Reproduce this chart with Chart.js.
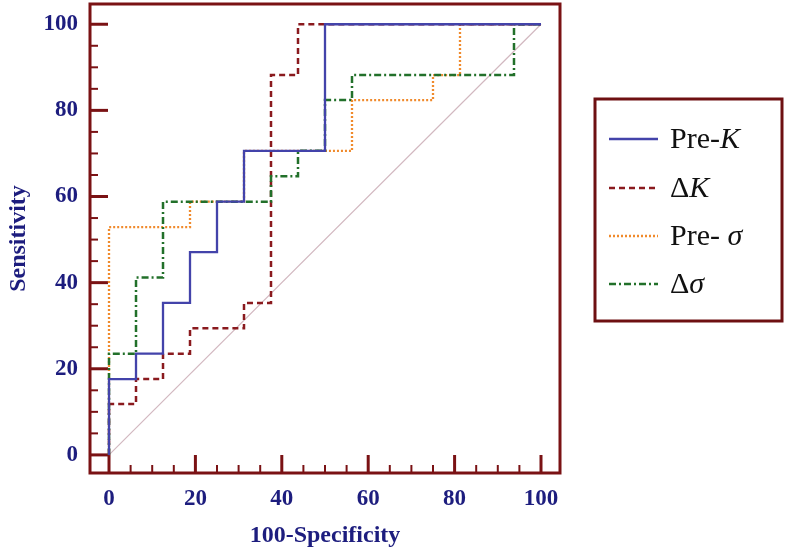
<!DOCTYPE html>
<html><head><meta charset="utf-8">
<script src="https://cdn.jsdelivr.net/npm/chart.js@4.4.1/dist/chart.umd.min.js"></script>
<style>html,body{margin:0;padding:0;background:#fff}#wrap{width:787px;height:551px;position:relative}</style>
</head><body><div id="wrap"><canvas id="c" width="787" height="551"></canvas></div>
<script>
// ---- data (ROC operating points: 100-Specificity, Sensitivity) ----
const xTicks = [0, 20, 40, 60, 80, 100];
const yTicks = [0, 20, 40, 60, 80, 100];
const minorTicks = [0,5,10,15,20,25,30,35,40,45,50,55,60,65,70,75,80,85,90,95,100];
const xTitle = '100-Specificity';
const yTitle = 'Sensitivity';

const preK_x = [0, 0, 6.25, 12.5, 18.75, 25, 31.25, 50, 100];
const preK_y = [0, 17.6, 23.5, 35.3, 47.1, 58.8, 70.6, 100, 100];

const dK_x = [0, 0, 6.25, 12.5, 18.75, 31.25, 37.5, 43.75, 100];
const dK_y = [0, 11.8, 17.6, 23.5, 29.4, 35.3, 88.2, 100, 100];

const preS_x = [0, 0, 18.75, 31.25, 56.25, 75, 81.25, 100];
const preS_y = [0, 52.9, 58.8, 70.6, 82.4, 88.2, 100, 100];

const dS_x = [0, 0, 6.25, 12.5, 37.5, 43.75, 50, 56.25, 93.75, 100];
const dS_y = [0, 23.5, 41.2, 58.8, 64.7, 70.6, 82.4, 88.2, 100, 100];

const diag_x = [0, 100];
const diag_y = [0, 100];

// legend labels: [text, italic]
const labPreK = [['Pre-', false], ['K', true]];
const labDK = [['\u0394', false], ['K', true]];
const labPreS = [['Pre- ', false], ['\u03C3', true]];
const labDS = [['\u0394', false], ['\u03C3', true]];

const pts = (xs, ys) => xs.map((x, i) => ({x: x, y: ys[i]}));

const MAROON = '#7a1214';
const NAVY = '#1d1d7e';
const SERIF = '"Liberation Serif", "Times New Roman", serif';

const framePlugin = {
  id: 'frame',
  beforeDatasetsDraw(chart) {
    const {ctx, chartArea: a, scales: {x, y}} = chart;
    ctx.save();
    ctx.strokeStyle = MAROON;
    ctx.lineCap = 'butt';
    minorTicks.forEach(v => {
      const major = v % 20 === 0;
      ctx.lineWidth = major ? 3 : 2;
      const len = major ? 18 : 8;
      const px = x.getPixelForValue(v);
      ctx.beginPath(); ctx.moveTo(px, a.bottom); ctx.lineTo(px, a.bottom - len); ctx.stroke();
      const py = y.getPixelForValue(v);
      ctx.beginPath(); ctx.moveTo(a.left, py); ctx.lineTo(a.left + len, py); ctx.stroke();
    });
    ctx.lineWidth = 3;
    ctx.strokeRect(a.left, a.top, a.right - a.left, a.bottom - a.top);
    ctx.restore();
  }
};

const legendPlugin = {
  id: 'customLegend',
  afterDraw(chart) {
    const ctx = chart.ctx;
    const box = {l: 595, t: 99, r: 782, b: 321};
    ctx.save();
    ctx.strokeStyle = '#6e1012';
    ctx.lineWidth = 3;
    ctx.strokeRect(box.l, box.t, box.r - box.l, box.b - box.t);
    const items = [[0, labPreK, 139], [1, labDK, 188], [2, labPreS, 236], [3, labDS, 284]];
    items.forEach(([di, parts, yy]) => {
      const ds = chart.data.datasets[di];
      ctx.save();
      ctx.strokeStyle = ds.borderColor;
      ctx.lineWidth = ds.borderWidth;
      ctx.setLineDash(ds.borderDash || []);
      ctx.beginPath(); ctx.moveTo(609, yy); ctx.lineTo(658, yy); ctx.stroke();
      ctx.restore();
      let tx = 670;
      ctx.fillStyle = '#111';
      ctx.textBaseline = 'middle';
      ctx.textAlign = 'left';
      parts.forEach(([t, it]) => {
        ctx.font = (it ? 'italic ' : '') + '30px ' + SERIF;
        ctx.fillText(t, tx, yy + 1);
        tx += ctx.measureText(t).width;
      });
    });
    ctx.restore();
  }
};

const tickFont = {family: SERIF, size: 23, weight: 'bold'};
const titleFont = {family: SERIF, size: 24, weight: 'bold'};
const noPad = s => { s.paddingTop = 0; s.paddingBottom = 0; s.paddingLeft = 0; s.paddingRight = 0; };

new Chart(document.getElementById('c'), {
  type: 'line',
  data: {
    datasets: [
      {label: 'Pre-K', data: pts(preK_x, preK_y), borderColor: '#4343aa', borderWidth: 2.3, stepped: 'before', order: 0},
      {label: '\u0394K', data: pts(dK_x, dK_y), borderColor: '#8a1a1e', borderWidth: 2.5, borderDash: [6, 4], stepped: 'before', order: 2},
      {label: 'Pre- \u03C3', data: pts(preS_x, preS_y), borderColor: '#f08a2c', borderWidth: 2.3, borderDash: [2, 2], stepped: 'before', order: 3},
      {label: '\u0394\u03C3', data: pts(dS_x, dS_y), borderColor: '#22702a', borderWidth: 2.5, borderDash: [7, 3, 2, 3], stepped: 'before', order: 1},
      {label: 'ref', data: pts(diag_x, diag_y), borderColor: '#d2b8c0', borderWidth: 1.2, order: 4}
    ]
  },
  options: {
    responsive: false,
    animation: false,
    devicePixelRatio: 1,
    layout: {padding: {top: 4, right: 227, left: 0, bottom: 0}},
    elements: {point: {radius: 0}, line: {tension: 0, fill: false, borderCapStyle: 'butt'}},
    plugins: {legend: {display: false}, tooltip: {enabled: false}},
    scales: {
      x: {
        type: 'linear', min: -4.4, max: 104.4,
        afterBuildTicks: s => { s.ticks = xTicks.map(v => ({value: v})); },
        afterFit: s => { s.height = 78; noPad(s); },
        grid: {display: false, drawTicks: false},
        border: {display: false},
        ticks: {font: tickFont, color: NAVY, padding: 12, maxRotation: 0, autoSkip: false},
        title: {display: true, text: xTitle, font: titleFont, color: NAVY, padding: {top: 0, bottom: 1}}
      },
      y: {
        type: 'linear', min: -4.2, max: 104.7,
        afterBuildTicks: s => { s.ticks = yTicks.map(v => ({value: v})); },
        afterFit: s => { s.width = 90; noPad(s); },
        grid: {display: false, drawTicks: false},
        border: {display: false},
        ticks: {font: tickFont, color: NAVY, padding: 12, autoSkip: false},
        title: {display: true, text: yTitle, font: titleFont, color: NAVY, padding: {top: 4, bottom: 0}}
      }
    }
  },
  plugins: [framePlugin, legendPlugin]
});
</script>
</body></html>
